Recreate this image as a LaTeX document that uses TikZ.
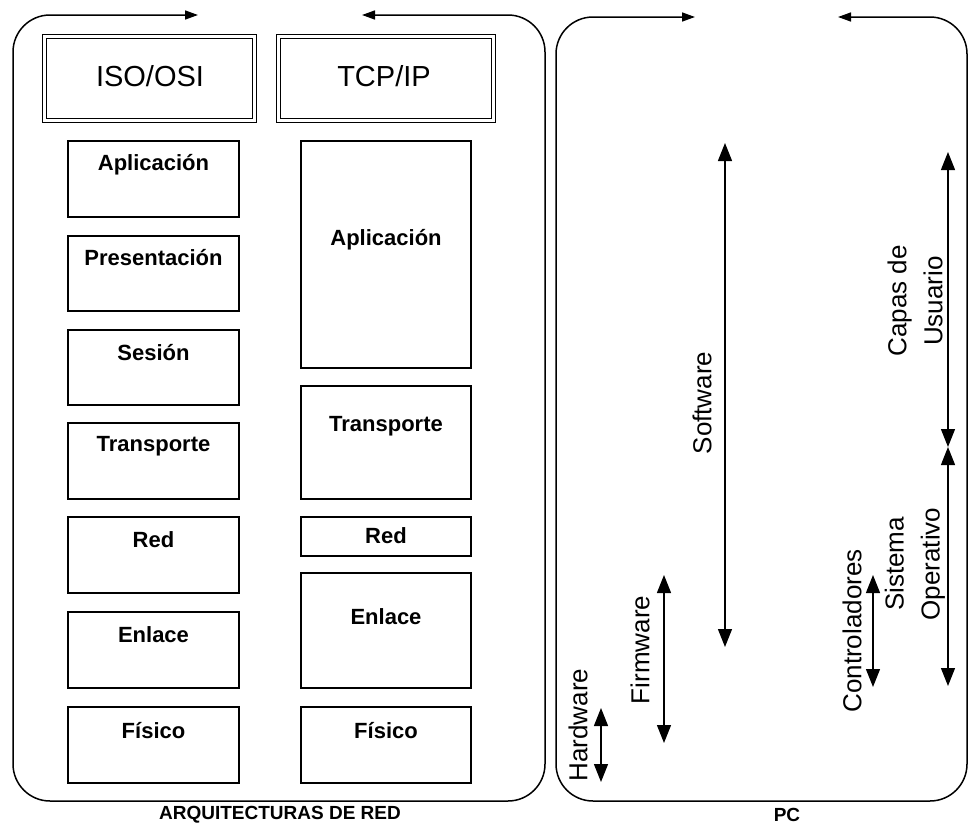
\documentclass[tikz,border=0pt]{standalone}
\usepackage{fontspec}
\setmainfont{Liberation Sans}
\usetikzlibrary{arrows.meta,fit,calc}

% one protocol layer: name, x1, y1, x2, y2, text drop below the top edge, text
\newcommand\layerbox[7]{%
  \node[layer, fit={(#2,#3) (#4,#5)}] (#1) {};
  \node[ltext] (#1-t) at ([yshift=-#6pt]#1.north) {#7};
}

\begin{document}
\begin{tikzpicture}[x=1pt,y=-1pt,
  panel/.style={line width=1.5pt, rounded corners=37pt,
    {Triangle[length=13pt,width=9pt]}-{Triangle[length=13pt,width=9pt]}},
  layer/.style={draw, line width=1.3pt, inner sep=0pt},
  ltext/.style={font=\fontsize{22}{26}\selectfont\bfseries, inner sep=0pt},
  title/.style={draw, double, line width=1pt, double distance=3pt, inner sep=0pt,
    font=\fontsize{29}{34}\selectfont},
  span/.style={line width=1.2pt,
    {Triangle[length=18pt,width=14pt]}-{Triangle[length=18pt,width=14pt]}},
  side/.style={rotate=90, inner sep=0pt, align=center,
    font=\fontsize{26}{36}\selectfont},
  caption/.style={font=\fontsize{19}{22}\selectfont\bfseries, inner sep=0pt}]

\useasboundingbox (0,0) rectangle (969,827);

% ---------- network architectures panel ----------
\draw[panel] (198,15) -- (13,15) -- (13,801) -- (545,801) -- (545,15) -- (362,15);

\node[title, fit={(44.5,36) (254,120.5)}] (osi) {};
\node[font=\fontsize{29}{34}\selectfont, inner sep=0pt] (osi-t) at (150,76) {ISO/OSI};
\node[title, fit={(278.5,36) (493,120.5)}] (tcp) {};
\node[font=\fontsize{29}{34}\selectfont, inner sep=0pt] (tcp-t) at (384,76) {TCP/IP};

% ISO/OSI stack
\layerbox{o7}{68}{141}{239}{217}{24}{Aplicación}
\layerbox{o6}{68}{236}{239}{311}{22}{Presentación}
\layerbox{o5}{68}{330}{239}{405}{23}{Sesión}
\layerbox{o4}{68}{423}{239}{499}{24}{Transporte}
\layerbox{o3}{68}{517}{239}{593}{23}{Red}
\layerbox{o2}{68}{612}{239}{688}{23}{Enlace}
\layerbox{o1}{68}{707}{239}{783}{24}{Físico}

% TCP/IP stack
\layerbox{t5}{301}{141}{471}{368}{99}{Aplicación}
\layerbox{t4}{301}{386}{471}{499}{41}{Transporte}
\layerbox{t3}{301}{517}{471}{556}{19.5}{Red}
\layerbox{t2}{301}{573}{471}{688}{44}{Enlace}
\layerbox{t1}{301}{707}{471}{783}{24}{Físico}

\node[caption] (arq) at (280,815) {ARQUITECTURAS DE RED};

% ---------- PC panel ----------
\draw[panel] (695,17) -- (556,17) -- (556,801) -- (967,801) -- (967,17) -- (838,17);

\coordinate (sw-a) at (725,143);  \coordinate (sw-b) at (725,647);
\coordinate (us-a) at (948,152);  \coordinate (us-b) at (948,447);
\coordinate (so-a) at (948,447);  \coordinate (so-b) at (948,686);
\coordinate (dr-a) at (873,575);  \coordinate (dr-b) at (873,687);
\coordinate (fw-a) at (664,575);  \coordinate (fw-b) at (664,743);
\coordinate (hw-a) at (601,708);  \coordinate (hw-b) at (601,782);

\draw[span] (sw-a) -- (sw-b);
\draw[span] (us-a) -- (us-b);
\draw[span] (so-a) -- (so-b);
\draw[span] (dr-a) -- (dr-b);
\draw[span] (fw-a) -- (fw-b);
\draw[span] (hw-a) -- (hw-b);

\node[side] (sw) at (702,403) {Software};
\node[side] (us) at (915,301) {Capas de\\Usuario};
\node[side] (so) at (915,564) {Sistema\\Operativo};
\node[side] (dr) at (852,631) {Controladores};
\node[side] (fw) at (640,650) {Firmware};
\node[side] (hw) at (578,725) {Hardware};

\node[caption] (pc) at (787,815) {PC};
\end{tikzpicture}
\end{document}
